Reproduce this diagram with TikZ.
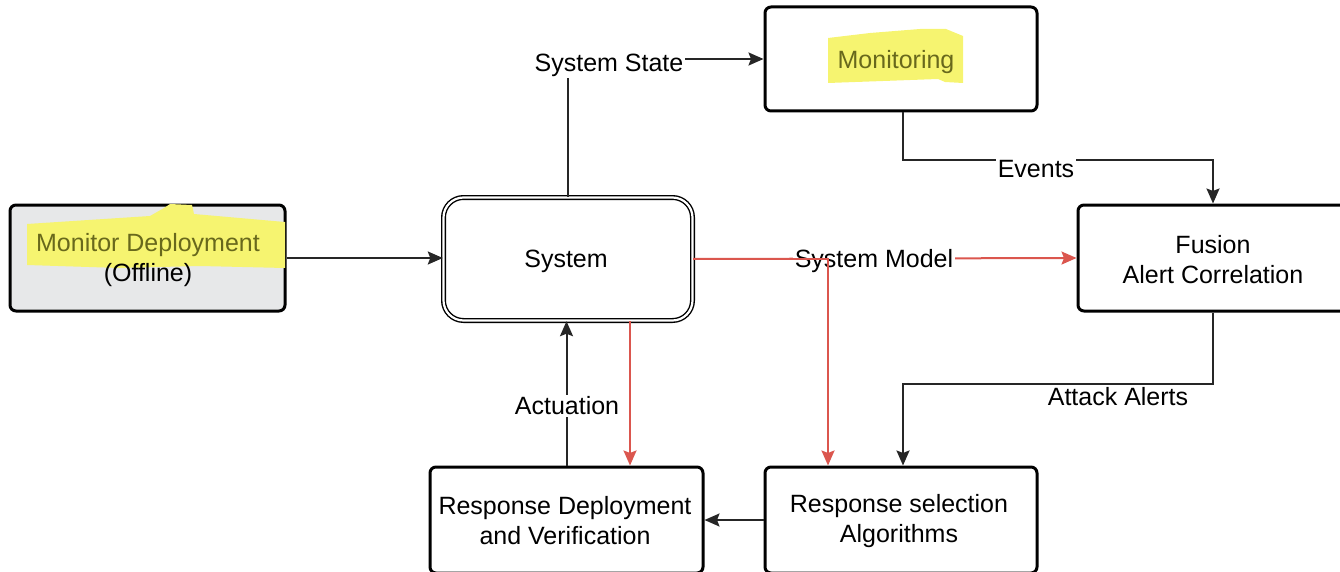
\documentclass[tikz,border=0pt]{standalone}
\usepackage{fontspec}
\setmainfont{Liberation Sans}
\usetikzlibrary{arrows.meta}
\definecolor{boxgray}{RGB}{231,232,233}
\definecolor{hlyellow}{RGB}{246,244,112}
\definecolor{hltext}{RGB}{104,104,28}
\definecolor{redc}{RGB}{219,86,78}
\tikzset{
  x=1pt, y=-1pt,
  every node/.style={font=\fontsize{25}{30}\selectfont, text=black},
  box/.style={draw=black, line width=3pt, rounded corners=6pt, inner sep=0pt},
  sysbox/.style={draw=black, double=white, double distance=2.2pt, line width=1.4pt, rounded corners=20pt, inner sep=0pt},
  txt/.style={align=center, inner sep=0pt},
  conn/.style={draw=black!85, line width=2pt, -{Stealth[length=15pt,width=13pt,inset=2.5pt]}},
  rconn/.style={draw=redc, line width=2pt, -{Stealth[length=15pt,width=13pt,inset=2.5pt]}},
  lbl/.style={fill=white, inner sep=2pt},
  hl/.style={fill=hlyellow}
}
\begin{document}
\begin{tikzpicture}
\useasboundingbox (0,0) rectangle (1340,572);
% boxes
\node[box, fill=boxgray, minimum width=275pt, minimum height=106pt] (md) at (147.5,258) {};
\fill[hl] (27,224) -- (150,216) -- (164,208) -- (170,204) -- (192,205) -- (194,214) -- (285,222) -- (285,268) -- (200,266) -- (120,268) -- (27,265) -- cycle;
\node[txt] (mdt) at (148,260) {{\color{hltext}Monitor Deployment}\\(Offline)};

\node[sysbox, minimum width=249pt, minimum height=123pt] (sys) at (568,259) {};
\node[txt] (syst) at (566,261) {System};

\node[box, minimum width=272pt, minimum height=104pt] (mon) at (901,59) {};
\fill[hl] (828,38) -- (870,33) -- (920,29) -- (946,29) -- (963,36) -- (963,83) -- (945,82) -- (938,79) -- (828,83) -- cycle;
\node[txt] (mont) at (896,62) {\color{hltext}Monitoring};

\node[box, minimum width=270pt, minimum height=106pt] (fus) at (1213,258) {};
\node[txt] (fust) at (1213,259.5) {Fusion\\Alert Correlation};
\node[box, minimum width=273pt, minimum height=106pt] (rd) at (566.5,520) {};
\node[txt] (rdt) at (565,521) {Response Deployment\\and Verification};
\node[box, minimum width=272pt, minimum height=106pt] (rs) at (901,520) {};
\node[txt] (rst) at (899,521) {Response selection\\Algorithms};

% helper coordinates
\coordinate (c630) at (630,0);
\coordinate (c828) at (828,0);
\coordinate (ev) at (903,160);
\coordinate (aa) at (903,384);

% connectors
\draw[conn] (md.east) -- (md.east -| sys.west);
\draw[conn] (sys.north) |- (mon.west);
\node[lbl] (sst) at (609,65) {System State};

\draw[conn] (mon.south -| ev) -- (ev) -| (fus.north);
\node[lbl] (evl) at (1036,169) {Events};

\draw[rconn] (sys.east) -- (fus.west);
\node[lbl] (sml) at (874,261) {System Model};
\draw[rconn] (sys.east) -| (rs.north -| c828);

\draw[rconn] (sys.south -| c630) -- (rd.north -| c630);

\draw[conn] (rd.north) -- (rd.north |- sys.south);
\node[lbl] (act) at (567,406) {Actuation};

\draw[conn] (fus.south) |- (aa) -- (aa |- rs.north);
\node[lbl, anchor=north] (aal) at (1118,385) {Attack Alerts};

\draw[conn] (rs.west) -- (rs.west -| rd.east);
\end{tikzpicture}
\end{document}
